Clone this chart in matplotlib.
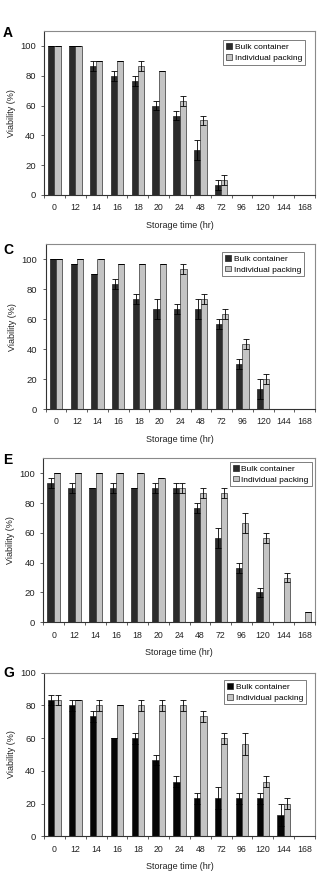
import matplotlib
matplotlib.use('Agg')
import matplotlib.pyplot as plt
import numpy as np

plt.rcParams['font.family'] = ['Liberation Sans', 'DejaVu Sans']

times = ['0', '12', '14', '16', '18', '20', '24', '48', '72', '96', '120', '144', '168']

# panel A
a_bulk = [100, 100, 86.7, 80, 76.7, 60, 53.3, 30, 6.7, 0, 0, 0, 0]
a_bulk_err = [0, 0, 3.3, 3.3, 3.3, 3.3, 3.3, 6.7, 3.3, 0, 0, 0, 0]
a_ind = [100, 100, 90, 90, 86.7, 83.3, 63.3, 50, 10, 0, 0, 0, 0]
a_ind_err = [0, 0, 0, 0, 3.3, 0, 3.3, 3.3, 3.3, 0, 0, 0, 0]

# panel C
c_bulk = [100, 96.7, 90, 83.3, 73.3, 66.7, 66.7, 66.7, 56.7, 30, 13.3, 0, 0]
c_bulk_err = [0, 0, 0, 3.3, 3.3, 6.7, 3.3, 6.7, 3.3, 3.3, 6.7, 0, 0]
c_ind = [100, 100, 100, 96.7, 96.7, 96.7, 93.3, 73.3, 63.3, 43.3, 20, 0, 0]
c_ind_err = [0, 0, 0, 0, 0, 0, 3.3, 3.3, 3.3, 3.3, 3.3, 0, 0]

# panel E
e_bulk = [93.3, 90, 90, 90, 90, 90, 90, 76.7, 56.7, 36.7, 20, 0, 0]
e_bulk_err = [3.3, 3.3, 0, 3.3, 0, 3.3, 3.3, 3.3, 6.7, 3.3, 3.3, 0, 0]
e_ind = [100, 100, 100, 100, 100, 96.7, 90, 86.7, 86.7, 66.7, 56.7, 30, 6.7]
e_ind_err = [0, 0, 0, 0, 0, 0, 3.3, 3.3, 3.3, 6.7, 3.3, 3.3, 0]

# panel G
g_bulk = [83.3, 80, 73.3, 60, 60, 46.7, 33.3, 23.3, 23.3, 23.3, 23.3, 13.3, 0]
g_bulk_err = [3.3, 3.3, 3.3, 0, 3.3, 3.3, 3.3, 3.3, 6.7, 3.3, 3.3, 6.7, 0]
g_ind = [83.3, 83.3, 80, 80, 80, 80, 80, 73.3, 60, 56.7, 33.3, 20, 0]
g_ind_err = [3.3, 0, 3.3, 0, 3.3, 3.3, 3.3, 3.3, 3.3, 6.7, 3.3, 3.3, 0]

W, H = 322, 871
fig = plt.figure(figsize=(W / 100, H / 100), dpi=100)


def ax_at(left, top, right, bottom):
    return fig.add_axes([left / W, 1 - bottom / H, (right - left) / W, (bottom - top) / H])


def panel(ax, letter, letter_y, bulk, bulk_err, ind, ind_err, ymax, bulk_color, leg_xy):
    x = np.arange(len(times))
    bw = 0.3
    ekw = dict(ecolor='black', elinewidth=0.6, capsize=2, capthick=0.6)
    ax.bar(x - bw / 2, bulk, bw, yerr=bulk_err, color=bulk_color, edgecolor='#222222',
           linewidth=0.5, error_kw=ekw, label='Bulk container')
    ax.bar(x + bw / 2, ind, bw, yerr=ind_err, color='#c4c4c4', edgecolor='#333333',
           linewidth=0.5, error_kw=ekw, label='Individual packing')
    ax.set_xlim(-0.5, len(times) - 0.5)
    ax.set_ylim(0, ymax)
    ax.set_yticks(range(0, 101, 20))
    ax.set_xticks(x)
    ax.set_xticklabels(times)
    ax.set_xticks(np.arange(len(times) + 1) - 0.5, minor=True)
    ax.tick_params(axis='x', which='major', length=0, labelsize=6.3, pad=6, colors='#222222')
    ax.tick_params(axis='x', which='minor', length=2.5, width=0.6, color='#444444')
    ax.tick_params(axis='y', length=2.5, width=0.6, labelsize=6.8, color='#444444', colors='#222222')
    for s in ['top', 'right']:
        ax.spines[s].set_color('#8a8a8a')
        ax.spines[s].set_linewidth(0.8)
    for s in ['left', 'bottom']:
        ax.spines[s].set_color('#333333')
        ax.spines[s].set_linewidth(0.8)
    ax.set_ylabel('Viability (%)', fontsize=6.5, labelpad=3, color='#222222')
    ax.set_xlabel('Storage time (hr)', fontsize=6.5, labelpad=6, color='#222222')
    lx, ly = leg_xy
    leg = ax.legend(loc='upper right', bbox_to_anchor=(lx / W, 1 - ly / H),
                    bbox_transform=fig.transFigure, fontsize=6, frameon=True, fancybox=False,
                    handlelength=0.7, handleheight=0.7, handletextpad=0.3,
                    borderpad=0.35, labelspacing=0.35, borderaxespad=0)
    leg.get_frame().set_edgecolor('#444444')
    leg.get_frame().set_linewidth(0.6)
    fig.text(3 / W, 1 - letter_y / H, letter, fontsize=10, fontweight='bold',
             ha='left', va='center')


axA = ax_at(44, 31, 315, 195)
panel(axA, 'A', 33, a_bulk, a_bulk_err, a_ind, a_ind_err, 110, '#2b2b2b', (305, 40.5))
axC = ax_at(45.7, 244.3, 315, 409)
panel(axC, 'C', 250, c_bulk, c_bulk_err, c_ind, c_ind_err, 110, '#2b2b2b', (304, 252))
axE = ax_at(43.3, 458.3, 315, 622.3)
panel(axE, 'E', 460, e_bulk, e_bulk_err, e_ind, e_ind_err, 110, '#2b2b2b', (311.5, 462))
axG = ax_at(44, 672.7, 315, 836.3)
panel(axG, 'G', 673, g_bulk, g_bulk_err, g_ind, g_ind_err, 100, '#050505', (306, 680))

fig.savefig('out.png', dpi=100)
plt.close()
